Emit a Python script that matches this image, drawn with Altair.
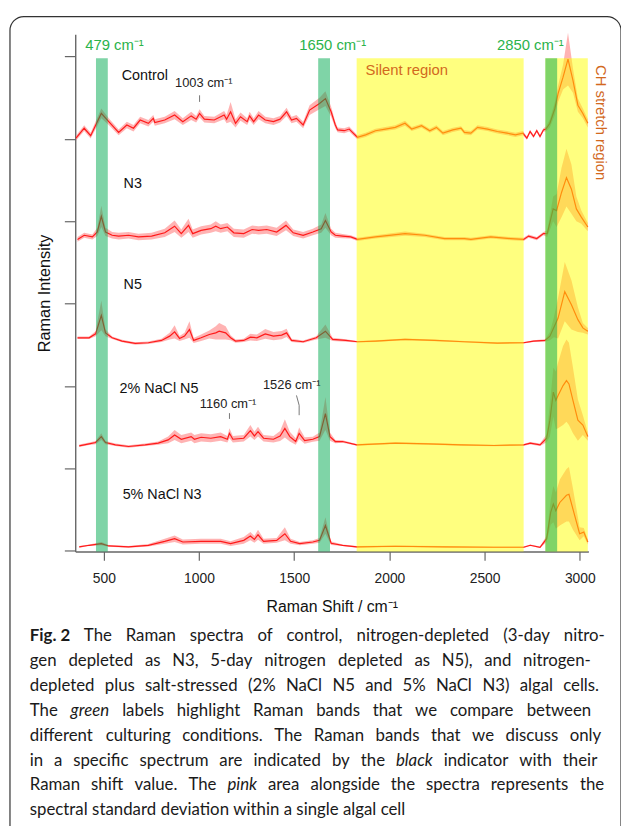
import glob
import os
import struct

import altair as alt
import pandas as pd

# ---------------- data (wavenumber, intensity, standard deviation) ----------------
control = [
    (354, 5.01, .03), (397, 5.13, .035), (431, 5.04, .035), (487, 5.31, .06), (526, 5.21, .04),
    (578, 5.08, .035), (621, 5.17, .04), (656, 5.13, .04), (691, 5.23, .04), (734, 5.19, .04),
    (760, 5.25, .04), (768, 5.20, .04), (820, 5.23, .04), (872, 5.29, .05), (915, 5.21, .04),
    (959, 5.28, .05), (985, 5.24, .04), (1003, 5.31, .05), (1028, 5.24, .04), (1080, 5.23, .04),
    (1132, 5.29, .05), (1145, 5.24, .05), (1166, 5.33, .12), (1192, 5.19, .05), (1218, 5.27, .05),
    (1253, 5.21, .04), (1266, 5.28, .05), (1287, 5.21, .04), (1313, 5.29, .05), (1348, 5.23, .04),
    (1391, 5.21, .04), (1426, 5.24, .04), (1460, 5.33, .05), (1486, 5.23, .04), (1512, 5.25, .04),
    (1547, 5.17, .04), (1581, 5.35, .06), (1633, 5.43, .07), (1664, 5.49, .09), (1694, 5.33, .06),
    (1716, 5.17, .04), (1728, 5.11, .03), (1763, 5.10, .03), (1789, 5.12, .03), (1806, 5.08, .03),
    (1832, 5.02, .025), (1875, 5.05, .025), (1927, 5.10, .025), (1979, 5.12, .025), (2031, 5.14, .025),
    (2082, 5.19, .03), (2117, 5.12, .025), (2169, 5.16, .025), (2212, 5.10, .025), (2247, 5.14, .025),
    (2281, 5.07, .025), (2333, 5.11, .025), (2376, 5.13, .025), (2394, 5.08, .025), (2428, 5.07, .025),
    (2463, 5.14, .025), (2515, 5.12, .025), (2567, 5.09, .025), (2618, 5.07, .025), (2662, 5.05, .025),
    (2701, 5.07, .025), (2722, 5.01, .02), (2739, 5.09, .02), (2757, 5.03, .02), (2774, 5.10, .02),
    (2791, 5.03, .02), (2809, 5.11, .02), (2822, 5.12, .03), (2843, 5.19, .05), (2869, 5.37, .08),
    (2886, 5.55, .10), (2912, 5.75, .15), (2938, 5.97, .32), (2964, 5.71, .15), (2990, 5.41, .08),
    (3016, 5.31, .06), (3042, 5.19, .05),
]
n3 = [
    (362, 3.78, .03), (397, 3.83, .03), (440, 3.81, .03), (466, 3.87, .05), (487, 4.06, .13),
    (509, 3.87, .05), (544, 3.83, .04), (578, 3.82, .04), (630, 3.83, .04), (682, 3.81, .04),
    (751, 3.82, .04), (820, 3.86, .05), (872, 3.94, .07), (907, 3.85, .05), (945, 3.95, .08),
    (967, 3.85, .05), (1011, 3.89, .05), (1062, 3.91, .05), (1088, 3.94, .06), (1114, 3.91, .05),
    (1149, 3.93, .05), (1183, 3.86, .05), (1235, 3.85, .05), (1279, 3.90, .05), (1313, 3.89, .05),
    (1356, 3.90, .05), (1408, 3.87, .05), (1457, 3.95, .06), (1495, 3.86, .04), (1547, 3.83, .04),
    (1598, 3.87, .04), (1642, 3.91, .05), (1664, 4.01, .09), (1694, 3.87, .04), (1716, 3.83, .03),
    (1754, 3.82, .025), (1797, 3.81, .02), (1832, 3.78, .02), (1927, 3.81, .02), (2082, 3.85, .025),
    (2186, 3.83, .02), (2290, 3.79, .02), (2394, 3.79, .02), (2428, 3.78, .02), (2532, 3.81, .02),
    (2636, 3.79, .02), (2705, 3.78, .02), (2731, 3.82, .02), (2774, 3.79, .02), (2809, 3.85, .02),
    (2829, 3.85, .04), (2860, 4.15, .15), (2878, 4.13, .20), (2904, 4.35, .30), (2930, 4.53, .35),
    (2956, 4.39, .30), (2982, 4.15, .15), (3008, 4.05, .08), (3042, 3.93, .05),
]
n5 = [
    (362, 2.585, .015), (423, 2.585, .015), (457, 2.633, .03), (487, 2.857, .18), (509, 2.645, .04),
    (544, 2.585, .015), (596, 2.545, .015), (665, 2.517, .015), (734, 2.525, .015), (803, 2.553, .02),
    (846, 2.605, .04), (872, 2.657, .08), (898, 2.577, .03), (924, 2.605, .04), (950, 2.685, .10),
    (972, 2.553, .03), (1011, 2.585, .04), (1054, 2.625, .05), (1088, 2.645, .08), (1106, 2.665, .10),
    (1140, 2.645, .08), (1166, 2.585, .03), (1192, 2.545, .02), (1235, 2.553, .02), (1270, 2.593, .04),
    (1304, 2.585, .04), (1348, 2.633, .06), (1391, 2.605, .05), (1434, 2.617, .05), (1460, 2.645, .05),
    (1486, 2.553, .02), (1547, 2.537, .015), (1616, 2.585, .02), (1664, 2.665, .08), (1702, 2.565, .02),
    (1771, 2.553, .015), (1832, 2.537, .01), (1927, 2.545, .01), (2082, 2.565, .01), (2238, 2.553, .01),
    (2394, 2.537, .01), (2567, 2.521, .01), (2705, 2.525, .01), (2757, 2.545, .01), (2817, 2.553, .015),
    (2843, 2.605, .05), (2864, 2.713, .12), (2886, 2.825, .25), (2921, 3.145, .36), (2956, 2.985, .30),
    (2990, 2.805, .15), (3016, 2.705, .06), (3042, 2.665, .04),
]
nacl2_n5 = [
    (371, 1.273, .015), (423, 1.297, .015), (457, 1.313, .02), (487, 1.385, .04), (509, 1.313, .02),
    (561, 1.285, .015), (630, 1.265, .015), (717, 1.285, .015), (786, 1.305, .02), (838, 1.345, .04),
    (872, 1.405, .06), (907, 1.353, .05), (959, 1.385, .05), (976, 1.353, .05), (1011, 1.377, .05),
    (1062, 1.365, .05), (1114, 1.385, .05), (1149, 1.353, .04), (1160, 1.425, .06), (1178, 1.353, .04),
    (1235, 1.365, .04), (1270, 1.457, .07), (1291, 1.393, .05), (1310, 1.445, .06), (1339, 1.365, .04),
    (1391, 1.353, .04), (1426, 1.393, .06), (1451, 1.485, .11), (1477, 1.385, .06), (1508, 1.325, .04),
    (1526, 1.425, .07), (1555, 1.337, .04), (1598, 1.353, .03), (1633, 1.385, .05), (1664, 1.665, .20),
    (1688, 1.385, .05), (1716, 1.325, .02), (1754, 1.325, .015), (1828, 1.285, .01), (2031, 1.305, .01),
    (2204, 1.297, .01), (2377, 1.285, .01), (2549, 1.277, .01), (2705, 1.285, .01), (2740, 1.305, .015),
    (2791, 1.285, .015), (2826, 1.365, .05), (2843, 1.585, .20), (2861, 1.925, .30), (2874, 1.825, .35),
    (2886, 1.885, .40), (2912, 2.005, .48), (2930, 2.065, .50), (2943, 2.025, .50), (2964, 1.825, .40),
    (2990, 1.585, .25), (3016, 1.525, .12), (3042, 1.385, .05),
]
nacl5_n3 = [
    (371, 0.045, .01), (423, 0.065, .01), (487, 0.085, .02), (526, 0.057, .01), (630, 0.045, .01),
    (734, 0.065, .015), (820, 0.113, .03), (872, 0.145, .04), (915, 0.105, .03), (1011, 0.113, .03),
    (1114, 0.113, .03), (1166, 0.085, .03), (1235, 0.125, .04), (1270, 0.177, .05), (1291, 0.137, .04),
    (1310, 0.193, .06), (1339, 0.113, .03), (1408, 0.125, .03), (1451, 0.205, .08), (1481, 0.113, .03),
    (1529, 0.085, .02), (1598, 0.105, .02), (1633, 0.125, .03), (1664, 0.305, .10), (1694, 0.090, .02),
    (1754, 0.065, .01), (1828, 0.045, .01), (2031, 0.053, .01), (2290, 0.045, .01), (2549, 0.041, .01),
    (2705, 0.041, .01), (2740, 0.065, .01), (2791, 0.041, .01), (2826, 0.145, .04), (2847, 0.465, .15),
    (2861, 0.565, .22), (2874, 0.485, .22), (2895, 0.585, .28), (2930, 0.673, .32), (2943, 0.685, .33),
    (2964, 0.505, .25), (2999, 0.205, .08), (3021, 0.225, .05), (3042, 0.105, .03),
]
series = {"Control": control, "N3": n3, "N5": n5, "2% NaCl N5": nacl2_n5, "5% NaCl N3": nacl5_n3}

# spectrum labels: (text, wavenumber, intensity)
spec_labels = [("Control", 594, 5.76), ("N3", 604, 4.45), ("N5", 604, 3.22),
               ("2% NaCl N5", 583, 1.96), ("5% NaCl N3", 599, 0.67)]
# highlighted bands: (name, start, end, colour)
bands = [("silent", 1828, 2705, "#ffff00"), ("CH", 2819, 3042, "#ffff00"),
         ("479", 459, 521, "#00aa50"), ("1650", 1626, 1688, "#00aa50"), ("2850", 2819, 2881, "#00aa50")]
band_labels = [("479 cm⁻¹", 402), ("1650 cm⁻¹", 1527), ("2850 cm⁻¹", 2565)]
peak_notes = [("1003 cm⁻¹", 874, 5.68), ("1160 cm⁻¹", 1004, 1.777), ("1526 cm⁻¹", 1336, 2.017)]
note_ticks = [(1003, 5.45, 1003, 5.53), (1160, 1.60, 1160, 1.67),
              (1526, 1.645, 1526, 1.765), (1526, 1.765, 1512, 1.885)]
x_ticks = [500, 1000, 1500, 2000, 2500, 3000]
y_ticks = [0, 1, 2, 3, 4, 5, 6]

# caption lines: (tokens, right edge of a justified line or None)
caption = [
    (["Fig. 2", "The", "Raman", "spectra", "of", "control,", "nitrogen-depleted", "(3-day", "nitro-"], 612),
    (["gen", "depleted", "as", "N3,", "5-day", "nitrogen", "depleted", "as", "N5),", "and", "nitrogen-"], 598),
    (["depleted", "plus", "salt-stressed", "(2%", "NaCl", "N5", "and", "5%", "NaCl", "N3)", "algal", "cells."], 606),
    (["The", "green", "labels", "highlight", "Raman", "bands", "that", "we", "compare", "between"], 598),
    (["different", "culturing", "conditions.", "The", "Raman", "bands", "that", "we", "discuss", "only"], 608),
    (["in", "a", "specific", "spectrum", "are", "indicated", "by", "the", "black", "indicator", "with", "their"], 604),
    (["Raman", "shift", "value.", "The", "pink", "area", "alongside", "the", "spectra", "represents", "the"], 611),
    (["spectral", "standard", "deviation", "within", "a", "single", "algal", "cell"], None),
]
bold_words = {"Fig. 2"}
italic_words = {"green", "black", "pink"}


# ---------------- text measuring (reads advance widths from the installed Lato files) ----------------
def find_font(name):
    for d in ["/usr/share/fonts", "/usr/local/share/fonts", os.path.expanduser("~/.fonts"),
              os.path.expanduser("~/.local/share/fonts")]:
        hits = glob.glob(os.path.join(d, "**", name), recursive=True)
        if hits:
            return hits[0]
    return None


def load_widths(path):
    with open(path, "rb") as f:
        data = f.read()
    num_tables = struct.unpack(">H", data[4:6])[0]
    tables = {}
    for i in range(num_tables):
        rec = 12 + 16 * i
        tag = data[rec:rec + 4].decode("latin-1")
        off = struct.unpack(">I", data[rec + 8:rec + 12])[0]
        tables[tag] = off
    upem = struct.unpack(">H", data[tables["head"] + 18:tables["head"] + 20])[0]
    nhm = struct.unpack(">H", data[tables["hhea"] + 34:tables["hhea"] + 36])[0]
    hm = tables["hmtx"]
    adv = [struct.unpack(">H", data[hm + 4 * i:hm + 4 * i + 2])[0] for i in range(nhm)]
    cm = tables["cmap"]
    n = struct.unpack(">H", data[cm + 2:cm + 4])[0]
    sub = None
    for i in range(n):
        pid, eid, off = struct.unpack(">HHI", data[cm + 4 + 8 * i:cm + 12 + 8 * i])
        fmt = struct.unpack(">H", data[cm + off:cm + off + 2])[0]
        if fmt == 4:
            sub = cm + off
            if (pid, eid) == (3, 1):
                break
    seg2 = struct.unpack(">H", data[sub + 6:sub + 8])[0]
    seg = seg2 // 2
    ends = struct.unpack(">%dH" % seg, data[sub + 14:sub + 14 + seg2])
    so = sub + 16 + seg2
    starts = struct.unpack(">%dH" % seg, data[so:so + seg2])
    do = so + seg2
    deltas = struct.unpack(">%dh" % seg, data[do:do + seg2])
    ro = do + seg2
    ros = struct.unpack(">%dH" % seg, data[ro:ro + seg2])

    def gid(c):
        for i in range(seg):
            if ends[i] >= c:
                if starts[i] > c:
                    return 0
                if ros[i] == 0:
                    return (c + deltas[i]) & 0xFFFF
                addr = ro + 2 * i + ros[i] + 2 * (c - starts[i])
                g = struct.unpack(">H", data[addr:addr + 2])[0]
                return (g + deltas[i]) & 0xFFFF if g else 0
        return 0

    def em(s):
        tot = 0
        for ch in s:
            g = gid(ord(ch))
            tot += adv[g] if g < nhm else adv[-1]
        return tot / upem
    return em


CW = {" ": .193, "a": .49, "b": .55, "c": .46, "d": .55, "e": .51, "f": .32, "g": .49, "h": .55, "i": .23,
      "j": .23, "k": .5, "l": .23, "m": .82, "n": .55, "o": .55, "p": .55, "q": .55, "r": .36, "s": .42,
      "t": .34, "u": .55, "v": .5, "w": .76, "x": .49, "y": .5, "z": .45, "F": .55, "N": .75, "R": .63,
      "T": .58, "C": .67, "I": .28, ".": .2, ",": .2, "-": .34, "(": .3, ")": .3, "%": .78, "2": .58,
      "3": .58, "5": .58}


def table_em(s):
    return sum(CW.get(ch, .55) for ch in s)


measure = {}
for style, fname, fallback_scale in [("regular", "Lato-Regular.ttf", 1.0), ("bold", "Lato-Bold.ttf", 1.06),
                                     ("italic", "Lato-Italic.ttf", 1.0)]:
    fn = None
    try:
        p = find_font(fname)
        if p:
            fn = load_widths(p)
    except Exception:
        fn = None
    measure[style] = fn if fn else (lambda s, k=fallback_scale: table_em(s) * k)


def word_em(t):
    if t in bold_words:
        return measure["bold"](t)
    if t in italic_words:
        return measure["italic"](t)
    return measure["regular"](t)


# ---------------- tables ----------------
def spec_table(name, pts):
    return pd.DataFrame([{"spectrum": name, "order": i, "x": x, "y": y, "lo": y - sd, "hi": y + sd}
                         for i, (x, y, sd) in enumerate(pts)])


spec_df = pd.concat([spec_table(n, p) for n, p in series.items()], ignore_index=True)
band_df = pd.DataFrame([{"name": n, "x": a, "x2": b, "y": -0.01, "y2": 5.98, "c": c} for n, a, b, c in bands])
lab_df = pd.DataFrame([{"t": t, "x": x, "y": y} for t, x, y in spec_labels])
blab_df = pd.DataFrame([{"t": t, "x": x, "y": 6.146} for t, x in band_labels])
note_df = pd.DataFrame([{"t": t, "x": x, "y": y} for t, x, y in peak_notes])
tick_df = pd.DataFrame([{"x": a, "y": b, "x2": c, "y2": d} for a, b, c, d in note_ticks])

FONT = "Liberation Sans"
PL, PT = 76, 30  # plot origin on the page
W, H = 519, 523

xs = alt.Scale(domain=[350, 3045], nice=False, zero=False)
ys = alt.Scale(domain=[-0.01, 6.27], nice=False, zero=False)
x_axis = alt.Axis(values=x_ticks, format="d", title="Raman Shift / cm⁻¹", grid=False, tickSize=9,
                  labelPadding=11, labelFontSize=14, labelFont=FONT, labelColor="#222",
                  titleFont=FONT, titleFontSize=16, titleFontWeight="normal", titleColor="#111",
                  titlePadding=14, domainColor="#666", tickColor="#666", domainWidth=1.4, tickWidth=1.2)
y_axis = alt.Axis(values=y_ticks, labels=False, title="Raman Intensity", grid=False, tickSize=11,
                  titleFont=FONT, titleFontSize=16.5, titleFontWeight="normal", titleColor="#111",
                  titlePadding=11, domainColor="#666", tickColor="#666", domainWidth=1.4, tickWidth=1.2)
X = alt.X("x:Q", scale=xs, axis=x_axis)
Y = alt.Y("y:Q", scale=ys, axis=y_axis)

# standard-deviation bands, one area per spectrum
sd_layers = []
for name, pts in series.items():
    sd_layers.append(alt.Chart(spec_table(name, pts)).mark_area(
        color="#ff8080", opacity=0.6, interpolate="linear").encode(
        x=alt.X("x:Q", scale=xs, axis=x_axis),
        y=alt.Y("hi:Q", scale=ys, axis=y_axis),
        y2=alt.Y2("lo:Q")))

lines = alt.Chart(spec_df).mark_line(color="#ff1a1a", strokeWidth=1.2).encode(
    x=X, y=Y, detail="spectrum:N", order="order:Q")
band_rects = alt.Chart(band_df).mark_rect(opacity=0.5).encode(
    x=X, x2="x2:Q", y=Y, y2="y2:Q", color=alt.Color("c:N", scale=None))
spec_text = alt.Chart(lab_df).mark_text(font=FONT, fontSize=14.5, align="left", baseline="middle", color="#111").encode(
    x=X, y=Y, text="t:N")
band_text = alt.Chart(blab_df).mark_text(font=FONT, fontSize=15, align="left", baseline="middle", color="#2bb34b").encode(
    x=X, y=Y, text="t:N")
note_text = alt.Chart(note_df).mark_text(font=FONT, fontSize=13, align="left", baseline="middle", color="#222").encode(
    x=X, y=Y, text="t:N")
note_rules = alt.Chart(tick_df).mark_rule(color="#777", strokeWidth=1).encode(
    x=X, y=Y, x2="x2:Q", y2="y2:Q")
silent_text = alt.Chart(pd.DataFrame({"t": ["Silent region"], "x": [1875], "y": [5.834]})).mark_text(
    font=FONT, fontSize=15, align="left", baseline="middle", color="#d2691e").encode(x=X, y=Y, text="t:N")
ch_text = alt.Chart(pd.DataFrame({"t": ["CH stretch region"], "x": [3110], "y": [5.198]})).mark_text(
    font=FONT, fontSize=15, align="center", baseline="middle", angle=90, color="#d2691e").encode(x=X, y=Y, text="t:N")

one = pd.DataFrame({"a": [0]})
border = alt.Chart(one).mark_rect(filled=False, stroke="#333", strokeWidth=1.2, cornerRadius=14).encode(
    x=alt.value(10 - PL), x2=alt.value(628 - PL), y=alt.value(12 - PT), y2=alt.value(880 - PT))

# --- caption: word-by-word justified text ---
last_tokens = caption[-1][0]
last_em = sum(word_em(t) for t in last_tokens) + measure["regular"](" ") * (len(last_tokens) - 1)
CAP_FS = max(16.5, min(18.5, 380 / last_em))

cap_layers = []
for i, (tokens, right) in enumerate(caption):
    py = 639 + 25.1 * i
    widths = [word_em(t) * CAP_FS for t in tokens]
    space = measure["regular"](" ") * CAP_FS
    if right is None:
        gap = space
    else:
        gap = max(2.5, (right - 30 - sum(widths)) / (len(tokens) - 1))
    px = 30.0
    for t, w in zip(tokens, widths):
        weight = "bold" if t in bold_words else "normal"
        style = "italic" if t in italic_words else "normal"
        cap_layers.append(alt.Chart(one).mark_text(
            text=t, font="Lato", fontSize=CAP_FS, fontWeight=weight, fontStyle=style, align="left",
            baseline="middle", color="#1a1a1a").encode(x=alt.value(px - PL), y=alt.value(py - PT)))
        px += w + gap

chart = alt.layer(*sd_layers, lines, band_rects, note_rules, spec_text, band_text, note_text,
                  silent_text, ch_text, border, *cap_layers).properties(
    width=W, height=H,
    autosize=alt.AutoSizeParams(type="none"),
    padding={"left": PL - 8, "top": PT - 8, "right": 33, "bottom": 818 - (PT - 8) - H},
).configure_view(stroke=None)

chart.save("out.html", embed_options={"renderer": "svg", "actions": False})
